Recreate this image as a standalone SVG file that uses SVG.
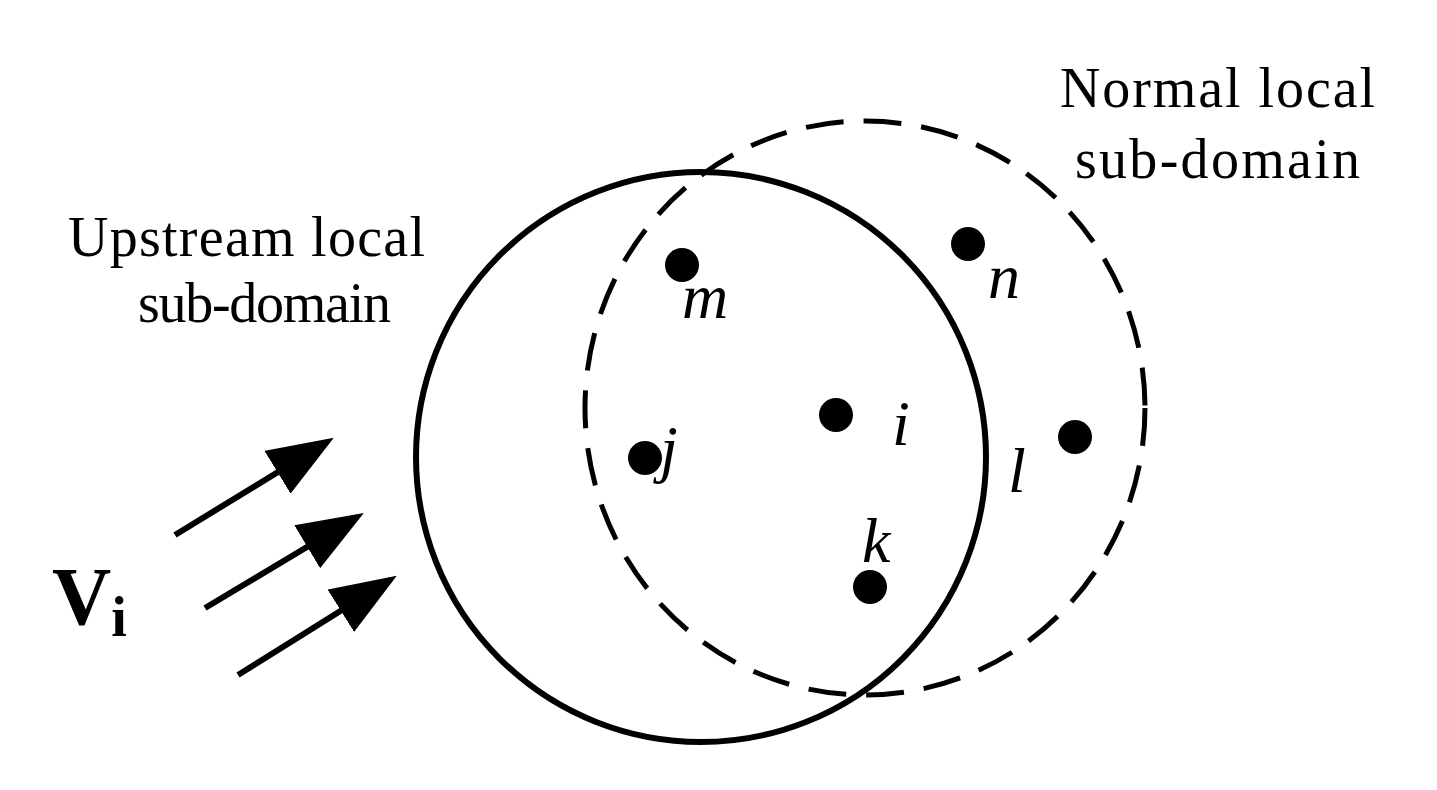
<svg xmlns="http://www.w3.org/2000/svg" width="1437" height="790" viewBox="0 0 1437 790">
<style>
.t{font-family:"Liberation Serif",serif;font-size:56px;fill:#000}
.it{font-family:"Liberation Serif",serif;font-size:64px;font-style:italic;fill:#000}
.d{fill:#000}
</style>
<defs><marker id="ah" markerUnits="userSpaceOnUse" markerWidth="70" markerHeight="50" refX="58" refY="25" orient="auto"><path d="M0,0 L66,25 L0,50 Z" fill="#000"/></marker></defs>
<rect width="1437" height="790" fill="#fff"/>
<g id="upstream"><circle cx="701" cy="457" r="285" fill="none" stroke="#000" stroke-width="6"/></g>
<g id="normal"><ellipse cx="865" cy="408" rx="280" ry="287" fill="none" stroke="#000" stroke-width="5" stroke-dasharray="38,20"/></g>
<g id="m"><circle class="d" cx="682" cy="265" r="17"/><text class="it" x="682" y="318">m</text></g>
<g id="n"><circle class="d" cx="968" cy="244" r="17"/><text class="it" x="988" y="298">n</text></g>
<g id="i"><circle class="d" cx="836" cy="415" r="17"/><text class="it" x="892" y="445">i</text></g>
<g id="j"><circle class="d" cx="645" cy="458" r="17"/><text class="it" x="660" y="470">j</text></g>
<g id="l"><circle class="d" cx="1075" cy="437" r="17"/><text class="it" x="1008" y="492">l</text></g>
<g id="k"><circle class="d" cx="870" cy="587" r="17"/><text class="it" x="862" y="562">k</text></g>
<g id="labels">
<text class="t" x="68" y="256" textLength="357" lengthAdjust="spacing">Upstream local</text>
<text class="t" x="138" y="322" textLength="253" lengthAdjust="spacing">sub-domain</text>
<text class="t" x="1060" y="107" textLength="315" lengthAdjust="spacing">Normal local</text>
<text class="t" x="1075" y="178" textLength="285" lengthAdjust="spacing">sub-domain</text>
<text font-family="Liberation Serif,serif" font-weight="bold" font-size="82" x="52" y="624">V<tspan font-size="56" dy="12">i</tspan></text>
</g>
<g id="connectors" stroke="#000" stroke-width="6">
<line x1="175" y1="535" x2="327" y2="442" marker-end="url(#ah)"/>
<line x1="205" y1="608" x2="357" y2="517" marker-end="url(#ah)"/>
<line x1="238" y1="675" x2="390" y2="580" marker-end="url(#ah)"/>
</g>
</svg>
